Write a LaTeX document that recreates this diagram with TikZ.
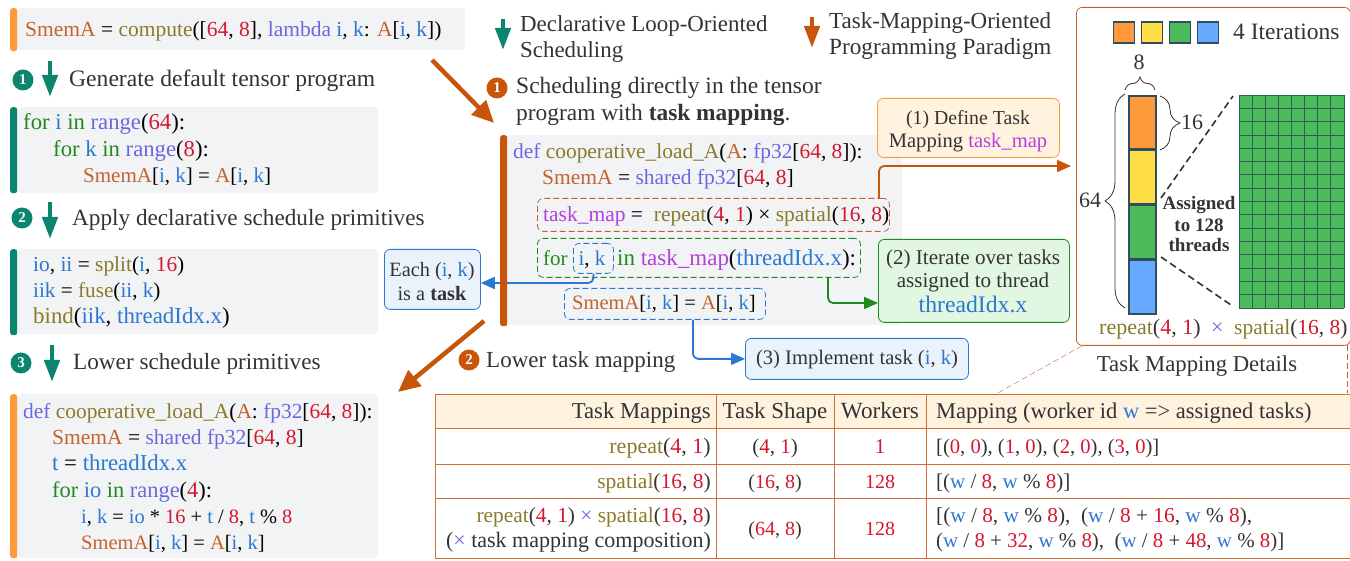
\documentclass[tikz,border=0pt]{standalone}
\usepackage{fontspec}
\setmainfont{Liberation Serif}
\usepackage{tikz}
\usetikzlibrary{arrows.meta,decorations.pathreplacing}

\definecolor{cTeal}{HTML}{0B8470}
\definecolor{cRust}{HTML}{C8560A}
\definecolor{cAmber}{HTML}{FF9A3C}
\definecolor{cCream}{HTML}{FFF3E0}
\definecolor{cMint}{HTML}{E2F7E2}
\definecolor{cIce}{HTML}{EAF3FC}
\definecolor{cGray}{HTML}{F2F3F5}
\definecolor{cInk}{HTML}{333333}
\definecolor{cBrown}{HTML}{C4622D}
\definecolor{cOlive}{HTML}{8A7B2A}
\definecolor{cViolet}{HTML}{6A68E0}
\definecolor{cBlue}{HTML}{2B78D0}
\definecolor{cRed}{HTML}{D4162E}
\definecolor{cLoop}{HTML}{1E8A1E}
\definecolor{cMagenta}{HTML}{B53FDC}
\definecolor{cGreen}{HTML}{4DBB5C}
\definecolor{cYellow}{HTML}{FFDD44}
\definecolor{cSky}{HTML}{66AAFF}
\definecolor{cSlate}{HTML}{2F4F5F}
\definecolor{cMesh}{HTML}{2F5F50}

\newcommand{\nm}[1]{\textcolor{cBrown}{#1}}
\newcommand{\fn}[1]{\textcolor{cOlive}{#1}}
\newcommand{\kw}[1]{\textcolor{cViolet}{#1}}
\newcommand{\iv}[1]{\textcolor{cBlue}{#1}}
\newcommand{\nr}[1]{\textcolor{cRed}{#1}}
\newcommand{\lp}[1]{\textcolor{cLoop}{#1}}
\newcommand{\tk}[1]{\textcolor{cMagenta}{#1}}
\newcommand{\ik}{\iv{i}, \iv{k}}
\newcommand{\wslash}{\iv{w} / \nr{8}}
\newcommand{\wmod}{\iv{w} \% \nr{8}}

\tikzset{
  sz/.style={font=\fontsize{#1}{26}\selectfont},
  codebox/.style={fill=cGray,rounded corners=4pt,anchor=north west,inner sep=0pt},
  codebar/.style={rounded corners=2.5pt,anchor=north west,inner sep=0pt,minimum width=7pt},
  code/.style={anchor=base west,inner sep=0pt,sz=21.5,text=black},
  note/.style={anchor=base west,inner sep=0pt,sz=22,text=cInk},
  notec/.style={note,anchor=base},
  noter/.style={note,anchor=base east},
  stepnum/.style={circle,inner sep=0pt,minimum size=21pt,text=white,font=\bfseries\fontsize{15}{15}\selectfont},
  dashbox/.style={draw,dash pattern=on 6pt off 3pt,rounded corners=6pt,thick,inner sep=0pt},
  callout/.style={draw,rounded corners=6pt,thick,inner sep=0pt},
  block/.style={draw=cTeal,line width=4.5pt,-{Triangle[width=15pt,length=22pt]}},
  blockr/.style={block,draw=cRust},
  bigarrow/.style={draw=cRust,line width=4.5pt,-{Triangle[width=20pt,length=22pt]}},
  link/.style={rounded corners=5pt,line width=1.8pt,-{Triangle[width=12pt,length=14pt]}},
  swatch/.style={draw=cSlate,line width=1.6pt,inner sep=0pt,minimum size=21pt},
  slab/.style={draw=cSlate,line width=1.6pt,inner sep=0pt,minimum width=27pt,minimum height=53.3pt},
  bracebase/.style={decorate,thick,draw=cInk},
  rule/.style={draw=cRust!85,line width=1pt}
}

\begin{document}
\begin{tikzpicture}[x=1pt,y=-1pt]
  \useasboundingbox (0,0) rectangle (1350,561);

  % left column, source and steps
  \node[codebox,minimum width=448pt,minimum height=42pt] (srcbox) at (17,8) {};
  \node[codebar,fill=cAmber,minimum height=43pt] (srcbar) at (10,8) {};
  \node[code] (srcline) at (25,37) {\nm{SmemA} = \fn{compute}([\nr{64}, \nr{8}], \kw{lambda} \ik: \nm{A}[\ik])};

  \node[stepnum,fill=cTeal] (ln1) at (23,80) {1};
  \coordinate (la1s) at (50,61);
  \coordinate (la1e) at (50,97);
  \draw[block] (la1s) -- (la1e);
  \node[note,sz=23.6] (lt1) at (69,87) {Generate default tensor program};

  \node[codebox,minimum width=361pt,minimum height=86pt] (defbox) at (17,107) {};
  \node[codebar,fill=cTeal,minimum height=86pt] (defbar) at (10,107) {};
  \node[code,sz=22.7] (def1) at (23,130) {\lp{for} \iv{i} \lp{in} \kw{range}(\nr{64}):};
  \node[code,sz=22.7] (def2) at (53,157) {\lp{for} \iv{k} \lp{in} \kw{range}(\nr{8}):};
  \node[code,sz=21] (def3) at (83,183) {\nm{SmemA}[\ik] = \nm{A}[\ik]};

  \node[stepnum,fill=cTeal] (ln2) at (22,218) {2};
  \coordinate (la2s) at (50,202);
  \coordinate (la2e) at (50,239);
  \draw[block] (la2s) -- (la2e);
  \node[note,sz=23.2] (lt2) at (72,226) {Apply declarative schedule primitives};

  \node[codebox,minimum width=361pt,minimum height=85pt] (schbox) at (17,249) {};
  \node[codebar,fill=cTeal,minimum height=86pt] (schbar) at (10,249) {};
  \node[code,sz=21.4] (sch1) at (33,272) {\iv{io}, \iv{ii} = \fn{split}(\iv{i}, \nr{16})};
  \node[code,sz=21.2] (sch2) at (33,298) {\iv{iik} = \fn{fuse}(\iv{ii}, \iv{k})};
  \node[code,sz=22.9] (sch3) at (33,324) {\fn{bind}(\iv{iik}, \iv{threadIdx.x})};

  \node[stepnum,fill=cTeal] (ln3) at (21,363) {3};
  \coordinate (la3s) at (52,345);
  \coordinate (la3e) at (52,382);
  \draw[block] (la3s) -- (la3e);
  \node[note,sz=23.2] (lt3) at (73,370) {Lower schedule primitives};

  \node[codebox,minimum width=361pt,minimum height=164pt] (lowbox) at (17,394) {};
  \node[codebar,fill=cAmber,minimum height=164pt] (lowbar) at (10,394) {};
  \node[code,sz=21.4] (low1) at (23,418) {\kw{def} \fn{cooperative\_load\_A}(\nm{A}: \kw{fp32}[\nr{64}, \nr{8}]):};
  \node[code] (low2) at (52,444) {\nm{SmemA} = \kw{shared fp32}[\nr{64}, \nr{8}]};
  \node[code,sz=22.8] (low3) at (52,470) {\iv{t} = \iv{threadIdx.x}};
  \node[code,sz=22.4] (low4) at (52,497) {\lp{for} \iv{io} \lp{in} \kw{range}(\nr{4}):};
  \node[code,sz=20.4] (low5) at (81,523) {\ik{} = \iv{io} * \nr{16} + \iv{t} / \nr{8}, \iv{t} \% \nr{8}};
  \node[code,sz=20.5] (low6) at (81,549) {\nm{SmemA}[\ik] = \nm{A}[\ik]};

  % legend
  \coordinate (lgas) at (503,19);
  \coordinate (lgae) at (503,50);
  \draw[block] (lgas) -- (lgae);
  \node[note,sz=22.9] (lg1) at (520,32) {Declarative Loop-Oriented};
  \node[note,sz=22.9] (lg2) at (520,58) {Scheduling};
  \coordinate (lgbs) at (812,17);
  \coordinate (lgbe) at (812,48);
  \draw[blockr] (lgbs) -- (lgbe);
  \node[note,sz=23] (lg3) at (829,29) {Task-Mapping-Oriented};
  \node[note,sz=23.2] (lg4) at (829,55) {Programming Paradigm};

  % middle program
  \coordinate (bas) at (432,60);
  \coordinate (bae) at (494,123);
  \draw[bigarrow] (bas) -- (bae);
  \node[stepnum,fill=cRust] (mn1) at (497,88) {1};
  \node[note,sz=23.5] (mt1) at (516,94) {Scheduling directly in the tensor};
  \node[note,sz=23.4] (mt2) at (516,121) {program with \textbf{task mapping}.};

  \node[codebox,minimum width=396pt,minimum height=190pt] (midbox) at (506,135) {};
  \node[code,sz=21.4] (mid1) at (513,159) {\kw{def} \fn{cooperative\_load\_A}(\nm{A}: \kw{fp32}[\nr{64}, \nr{8}]):};
  \node[code] (mid2) at (542,185) {\nm{SmemA} = \kw{shared fp32}[\nr{64}, \nr{8}]};

  \node[dashbox,draw=cBrown,minimum width=352pt,minimum height=33pt,anchor=north west] (mapbox) at (537,198) {};
  \node[code] (mid3) at (543,222) {\tk{task\_map} = \ \fn{repeat}(\nr{4}, \nr{1}) × \fn{spatial}(\nr{16}, \nr{8})};
  \node[dashbox,draw=cLoop,minimum width=323pt,minimum height=39pt,anchor=north west] (forbox) at (537,238) {};
  \node[dashbox,draw=cBlue,minimum width=40pt,minimum height=30pt,anchor=north west] (ikbox) at (573,243) {};
  \node[code,sz=21] (mid4a) at (543,266) {\lp{for}};
  \node[code,sz=21,anchor=base] (mid4b) at (592,266) {\ik};
  \node[code,sz=23] (mid4c) at (617,266) {\lp{in} \tk{task\_map}(\iv{threadIdx.x}):};
  \node[dashbox,draw=cBlue,minimum width=201pt,minimum height=31pt,anchor=north west] (bodybox) at (564,288) {};
  \node[code,sz=20.5] (mid5) at (572,310) {\nm{SmemA}[\ik] = \nm{A}[\ik]};

  % callouts
  \node[callout,draw=cBlue,fill=cIce,minimum width=96pt,minimum height=60pt,anchor=north west] (taskbox) at (384,249) {};
  \node[notec,sz=20.3] (task1) at (432,277) {Each (\ik)};
  \node[notec,sz=20.3] (task2) at (432,301) {is a \textbf{task}};
  \node[callout,draw=cAmber,fill=cCream,minimum width=182pt,minimum height=59pt,anchor=north west] (defnote) at (877,98) {};
  \node[notec,sz=19.8] (defn1) at (968,125) {(1) Define Task};
  \node[notec,sz=20.6] (defn2) at (968,148) {Mapping \tk{task\_map}};
  \node[callout,draw=cLoop,fill=cMint,minimum width=191pt,minimum height=83pt,anchor=north west] (iternote) at (878,239) {};
  \node[notec,sz=21.1] (itn1) at (973,265) {(2) Iterate over tasks};
  \node[notec,sz=21.1] (itn2) at (973,288) {assigned to thread};
  \node[notec,sz=23.7] (itn3) at (973,313) {\iv{threadIdx.x}};
  \node[callout,draw=cBlue,fill=cIce,minimum width=223pt,minimum height=41pt,anchor=north west] (implnote) at (745,338) {};
  \node[notec,sz=20.6] (imn1) at (857,365) {(3) Implement task (\ik)};

  \coordinate (dtip) at (1071,166);
  \draw[link,draw=cRust] (mapbox.north -| 879,198) |- (dtip);
  \draw[link,draw=cLoop] (forbox.south -| 828,277) |- (iternote.west |- 0,303);
  \draw[link,draw=cBlue] (bodybox.south -| 693,319) |- (implnote.west);
  \draw[link,draw=cBlue] (ikbox.south) |- (taskbox.east |- 0,283);
  \node[codebar,fill=cRust,minimum height=191pt] (midbar) at (500,135) {};

  \coordinate (lbs) at (484,321);
  \coordinate (lbe) at (398,392);
  \draw[bigarrow] (lbs) -- (lbe);
  \node[stepnum,fill=cRust] (mn2) at (469,360) {2};
  \node[note,sz=23] (mt3) at (486,367) {Lower task mapping};

  % task mapping details
  \node[draw=cBrown,thick,rounded corners=6pt,minimum width=274pt,minimum height=338pt,anchor=north west,inner sep=0pt] (detbox) at (1076,7) {};
  \foreach \cl/\ex in {cAmber/1124,cYellow/1152,cGreen/1180,cSky/1208}
    \node[swatch,fill=\cl] (sw\ex) at (\ex,32.5) {};
  \node[note,sz=23.5] (iters) at (1233,40) {4 Iterations};
  \node[slab,fill=cAmber,anchor=north west] (sl1) at (1128,95) {};
  \node[slab,fill=cYellow,anchor=north] (sl2) at (sl1.south) {};
  \node[slab,fill=cGreen,anchor=north] (sl3) at (sl2.south) {};
  \node[slab,fill=cSky,anchor=north] (sl4) at (sl3.south) {};
  \draw[bracebase,decoration={brace,amplitude=13pt}] (1125,90) -- (1155,90);
  \node[notec] (lab8) at (1139,70) {8};
  \draw[bracebase,decoration={brace,amplitude=20pt}] (1125,308) -- (1125,94);
  \node[notec] (lab64) at (1090,208) {64};
  \draw[bracebase,decoration={brace,amplitude=20pt}] (1160,96) -- (1160,150);
  \node[notec] (lab16) at (1192,130) {16};

  \fill[cGreen] (1239,95) rectangle (1344,308);
  \foreach \ex in {0,...,8}
    \draw[cMesh,line width=.8pt] (1239+\ex*13.125,95) -- (1239+\ex*13.125,308);
  \foreach \ey in {0,...,16}
    \draw[cMesh,line width=.8pt] (1239,95+\ey*13.3125) -- (1344,95+\ey*13.3125);
  \coordinate (zp1) at (1161,198);
  \coordinate (zp2) at (1233,96);
  \coordinate (zp3) at (1161,257);
  \coordinate (zp4) at (1231,305);
  \draw[cInk,line width=1.6pt,dash pattern=on 7pt off 4pt] (zp1) -- (zp2);
  \draw[cInk,line width=1.6pt,dash pattern=on 7pt off 4pt] (zp3) -- (zp4);
  \node[notec,font=\bfseries\fontsize{19}{23}\selectfont] (asg1) at (1199,210) {Assigned};
  \node[notec,font=\bfseries\fontsize{19}{23}\selectfont] (asg2) at (1199,232) {to 128};
  \node[notec,font=\bfseries\fontsize{19}{23}\selectfont] (asg3) at (1199,252) {threads};
  \node[note] (rep) at (1099,335) {\fn{repeat}(\nr{4}, \nr{1})};
  \node[note] (tim) at (1211,335) {\kw{×}};
  \node[note,sz=21.5] (spa) at (1234,335) {\fn{spatial}(\nr{16}, \nr{8})};
  \node[notec,sz=22.7] (dettitle) at (1197,372) {Task Mapping Details};

  % table
  \coordinate (tl) at (996,394);
  \coordinate (tr) at (1347,393);
  \draw[draw=cBrown,dash pattern=on 6pt off 3pt] (detbox.south west) ++(6,0) -- (tl);
  \draw[draw=cBrown,dash pattern=on 6pt off 3pt] (1347,345) -- (tr);
  \fill[cCream] (435,394) rectangle (1350,428);
  \foreach \ey in {394,428,464,498,558}
    \draw[rule] (435,\ey) -- (1350,\ey);
  \foreach \ex in {435,716,834,926}
    \draw[rule] (\ex,394) -- (\ex,558);

  \node[noter,sz=22.7] (h1) at (711,418) {Task Mappings};
  \node[notec,sz=22.9] (h2) at (775,418) {Task Shape};
  \node[notec,sz=23.2] (h3) at (880,418) {Workers};
  \node[note,sz=22.5] (h4) at (936,418) {Mapping (worker id \iv{w} => assigned tasks)};

  \node[noter] (r1a) at (711,453) {\fn{repeat}(\nr{4}, \nr{1})};
  \node[notec,sz=21] (r1b) at (775,453) {(\nr{4}, \nr{1})};
  \node[notec,sz=21] (r1c) at (880,453) {\nr{1}};
  \node[note,sz=20.6] (r1d) at (936,453) {[(\nr{0}, \nr{0}), (\nr{1}, \nr{0}), (\nr{2}, \nr{0}), (\nr{3}, \nr{0})]};

  \node[noter,sz=21.5] (r2a) at (711,488) {\fn{spatial}(\nr{16}, \nr{8})};
  \node[notec,sz=20] (r2b) at (775,488) {(\nr{16}, \nr{8})};
  \node[notec,sz=20] (r2c) at (880,488) {\nr{128}};
  \node[note,sz=21] (r2d) at (936,488) {[(\wslash, \wmod)]};

  \node[noter,sz=21.4] (r3a) at (711,522) {\fn{repeat}(\nr{4}, \nr{1}) \kw{×} \fn{spatial}(\nr{16}, \nr{8})};
  \node[noter] (r3e) at (711,547) {(\kw{×} task mapping composition)};
  \node[notec,sz=20] (r3b) at (775,535) {(\nr{64}, \nr{8})};
  \node[notec,sz=20] (r3c) at (880,535) {\nr{128}};
  \node[note,sz=21.3] (r3d) at (936,522) {[(\wslash, \wmod), \ (\wslash{} + \nr{16}, \wmod),};
  \node[note,sz=20.9] (r3f) at (936,547) {(\wslash{} + \nr{32}, \wmod), \ (\wslash{} + \nr{48}, \wmod)]};
\end{tikzpicture}
\end{document}
